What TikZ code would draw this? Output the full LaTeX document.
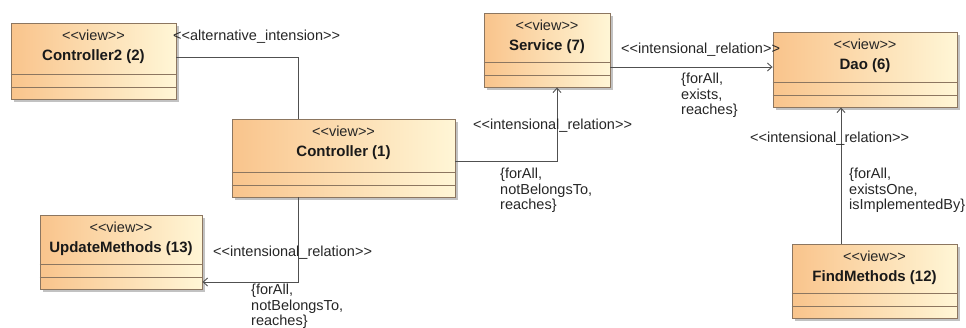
\documentclass[tikz,border=0pt]{standalone}
\usepackage{fontspec}
\setmainfont{Liberation Sans}
\usetikzlibrary{shadows,arrows.meta}

\definecolor{boxline}{RGB}{140,118,96}
\definecolor{boxleft}{RGB}{249,196,140}
\definecolor{boxright}{RGB}{255,246,214}
\definecolor{relline}{RGB}{80,80,80}

\newcommand{\stereo}[1]{<{}<#1>{}>}

\tikzset{
  classbox/.style={draw=boxline, line width=0.9pt, left color=boxleft, right color=boxright,
    inner sep=0pt, drop shadow={shadow xshift=2.5pt, shadow yshift=-2.5pt, fill=black!40, opacity=0.6}},
  compline/.style={draw=boxline, line width=0.9pt},
  stereotext/.style={font=\fontsize{14.5}{15}\selectfont, text=black!85, inner sep=0pt},
  nametext/.style={font=\fontsize{15}{16}\selectfont\bfseries, text=black!90, inner sep=0pt},
  rellabel/.style={font=\fontsize{14.5}{15.5}\selectfont, text=black!85, anchor=west, inner sep=0pt, align=left},
  rel/.style={draw=relline, line width=0.9pt},
  relarrow/.style={rel, -{Straight Barb[length=4.5pt, width=8pt]}}
}

\begin{document}
\begin{tikzpicture}[x=1pt, y=-1pt]

    \useasboundingbox (0,0) rectangle (966,327);

    % Klassen
    \node[classbox, minimum width=165, minimum height=76] (c2)   at ( 93.5,  61) {};
    \node[classbox, minimum width=223, minimum height=78] (ctrl) at (343.5, 158) {};
    \node[classbox, minimum width=162, minimum height=74] (upd)  at (121,   252) {};
    \node[classbox, minimum width=126, minimum height=74] (srv)  at (547,    50) {};
    \node[classbox, minimum width=184, minimum height=75] (dao)  at (865,  69.5) {};
    \node[classbox, minimum width=165, minimum height=74] (find) at (874.5, 281) {};

    % Abteilungen
    \foreach \n in {c2,ctrl,upd,srv,dao,find} {
        \draw[compline] ([yshift=25]\n.south west) -- ([yshift=25]\n.south east);
        \draw[compline] ([yshift=12.5]\n.south west) -- ([yshift=12.5]\n.south east);
        \node[stereotext] at ([yshift=-13]\n.north) {\stereo{view}};
    }

    \node[nametext] (c2n)   at ([yshift=-34]c2.north)   {Controller2 (2)};
    \node[nametext] (ctrln) at ([yshift=-34]ctrl.north) {Controller (1)};
    \node[nametext] (updn)  at ([yshift=-34]upd.north)  {UpdateMethods (13)};
    \node[nametext] (srvn)  at ([yshift=-34]srv.north)  {Service (7)};
    \node[nametext] (daon)  at ([yshift=-34]dao.north)  {Dao (6)};
    \node[nametext] (findn) at ([yshift=-34]find.north) {FindMethods (12)};

    % Beziehungen
    \draw[rel] ([yshift=4]c2.east) -| ([xshift=-45.5]ctrl.north);
    \draw[relarrow] ([yshift=-3]ctrl.east) -| ([xshift=10]srv.south);
    \draw[relarrow] ([xshift=-45.5]ctrl.south) |- ([yshift=-30]upd.east);
    \draw[relarrow] ([yshift=-17]srv.east) -- ([yshift=-17]srv.east -| dao.west);
    \draw[relarrow] ([xshift=-33.5]find.north) -- ([xshift=-33.5]find.north |- dao.south);

    % Beschriftungen
    \node[rellabel] (alt)  at (173,  37) {\stereo{alternative\_intension}};
    \node[rellabel] (r1)   at (473, 126) {\stereo{intensional\_relation}};
    \node[rellabel, anchor=north west] (r1c) at (500, 168) {\{forAll,\\notBelongsTo,\\reaches\}};
    \node[rellabel] (r2)   at (213, 253) {\stereo{intensional\_relation}};
    \node[rellabel, anchor=north west] (r2c) at (251, 284) {\{forAll,\\notBelongsTo,\\reaches\}};
    \node[rellabel] (r3)   at (621,  50) {\stereo{intensional\_relation}};
    \node[rellabel, anchor=north west] (r3c) at (681,  73) {\{forAll,\\exists,\\reaches\}};
    \node[rellabel] (r4)   at (750, 139) {\stereo{intensional\_relation}};
    \node[rellabel, anchor=north west] (r4c) at (849, 168) {\{forAll,\\existsOne,\\isImplementedBy\}};

\end{tikzpicture}
\end{document}
